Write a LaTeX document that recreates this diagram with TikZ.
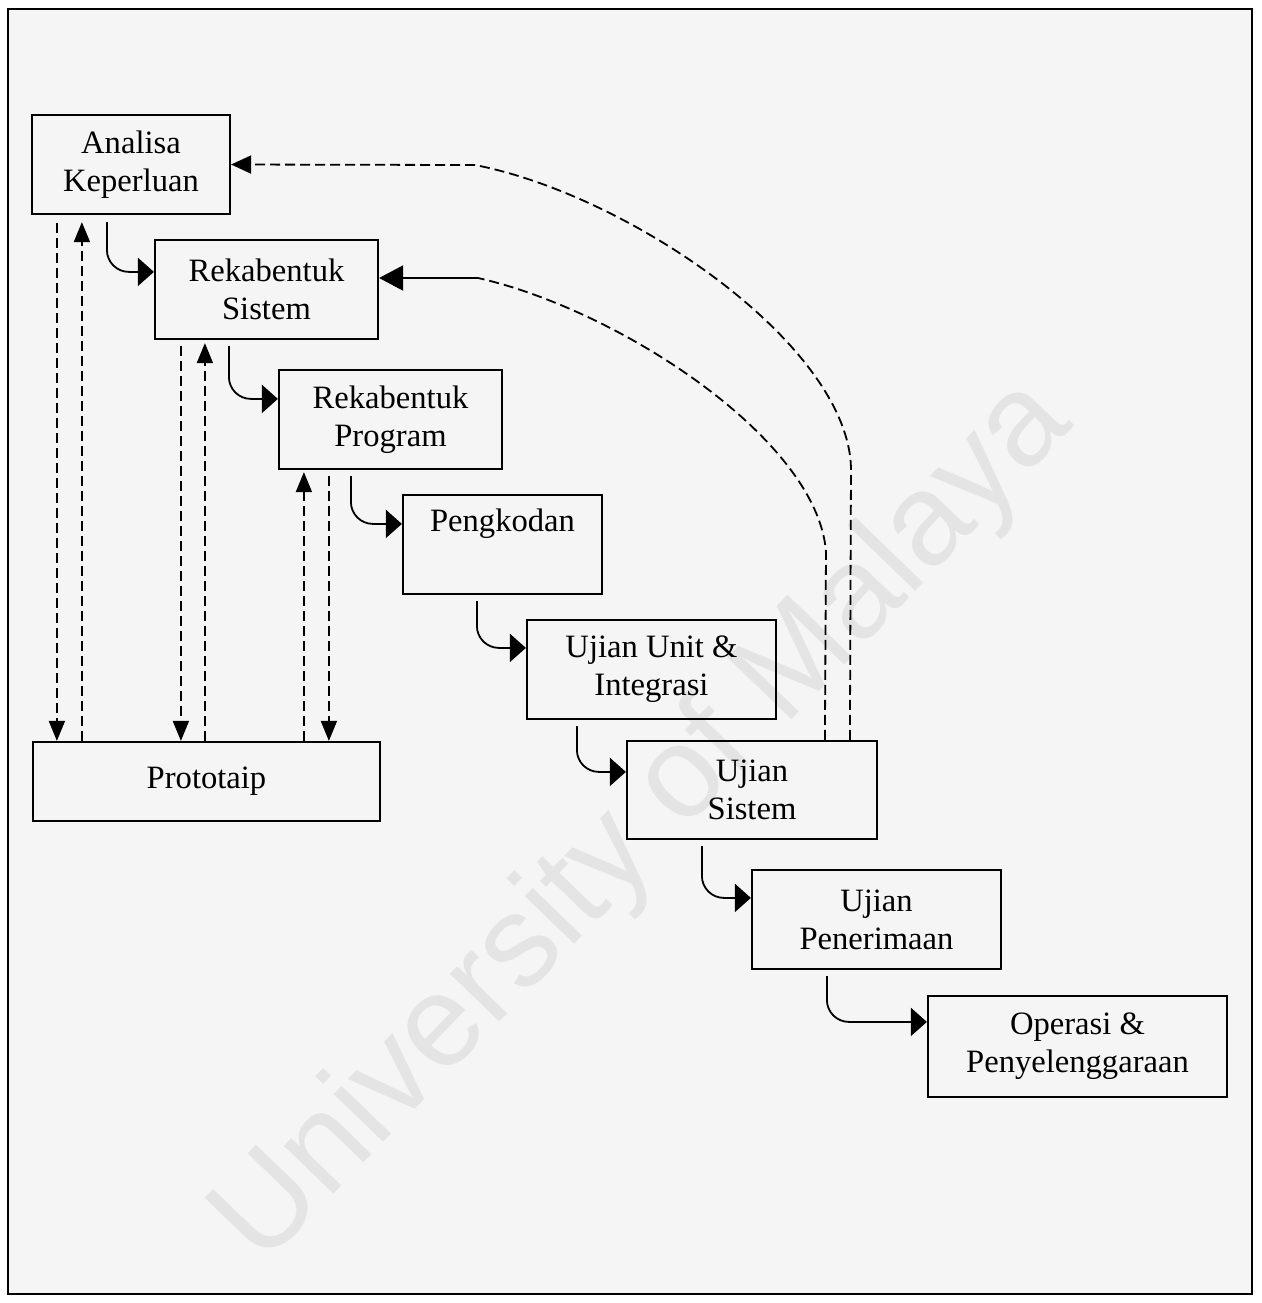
\documentclass[tikz,border=0pt]{standalone}
\usepackage{fontspec}
\setmainfont{Liberation Serif}
\newfontfamily\wmfont{Liberation Sans}
\usetikzlibrary{arrows.meta,calc}
\definecolor{bgcol}{RGB}{245,245,245}
\definecolor{wmcol}{RGB}{228,228,228}
\begin{document}
\begin{tikzpicture}[x=0.5pt,y=-0.5pt,
  box/.style={draw, line width=1.1pt, align=center, inner sep=0pt,
    font=\fontsize{16.3}{19}\selectfont},
  flow/.style={line width=0.9pt, rounded corners=11pt,
    -{Triangle[length=8pt,width=14pt]}},
  dline/.style={line width=0.9pt, dash pattern=on 5pt off 2.5pt},
  dtip/.style={-{Triangle[length=10pt,width=8pt]}},
  ftip/.style={-{Triangle[length=10pt,width=9pt]}},
  ftipb/.style={-{Triangle[length=12pt,width=12.5pt]}}]
\useasboundingbox (0,0) rectangle (1262,1303);
\fill[white] (0,0) rectangle (1262,1303);
\draw[line width=1.4pt, fill=bgcol] (8,9) rectangle (1252,1294);
\node[rotate=46, anchor=base west, inner sep=0pt, text=wmcol,
  font=\wmfont\fontsize{65}{65}\selectfont] (wm) at (262,1268) {University of Malaya};

\node[box,minimum width=99pt,minimum height=49.5pt] (a) at (131,164.5) {Analisa\\Keperluan};
\node[box,minimum width=111.5pt,minimum height=49.5pt] (b) at (266.5,289.5) {Rekabentuk\\Sistem};
\node[box,minimum width=111.5pt,minimum height=49.5pt] (c) at (390.5,419.5) {Rekabentuk\\Program};
\node[box,minimum width=99.5pt,minimum height=49.5pt] (d) at (502.5,544.5) {Pengkodan\\ \strut};
\node[box,minimum width=124.5pt,minimum height=49.5pt] (e) at (651.5,669.5) {Ujian Unit \&\\Integrasi};
\node[box,minimum width=125pt,minimum height=49pt] (f) at (752,790) {Ujian\\Sistem};
\node[box,minimum width=124.5pt,minimum height=49.5pt] (g) at (876.5,919.5) {Ujian\\Penerimaan};
\node[box,minimum width=149.5pt,minimum height=50.5pt] (h) at (1077.5,1046.5) {Operasi \&\\Penyelenggaraan};
\node[box,minimum width=173.5pt,minimum height=39.5pt] (p) at (206.5,781.5) {Prototaip};

% waterfall steps
\draw[flow] ($(a.south west)+(76,7)$) |- ($(b.north west)+(0,33)$);
\draw[flow] ($(b.south west)+(75,6)$) |- ($(c.north west)+(0,30)$);
\draw[flow] ($(c.south west)+(73,6)$) |- ($(d.north west)+(0,30)$);
\draw[flow] ($(d.south west)+(75,6)$) |- ($(e.north west)+(0,29)$);
\draw[flow] ($(e.south west)+(51,6)$) |- ($(f.north west)+(0,32)$);
\draw[flow] ($(f.south west)+(76,6)$) |- ($(g.north west)+(0,29)$);
\draw[flow] ($(g.south west)+(76,6)$) |- ($(h.north west)+(0,27)$);

% prototype links
\coordinate (d1) at ($(a.south west)+(26,8)$);
\coordinate (u1) at ($(a.south west)+(51,7)$);
\coordinate (d2) at ($(b.south west)+(27,6)$);
\coordinate (u2) at ($(b.south west)+(51,3)$);
\coordinate (u3) at ($(c.south west)+(26,2)$);
\coordinate (d3) at ($(c.south west)+(51,6)$);
\draw[dline,dtip] (d1) -- (d1 |- p.north);
\draw[dline,dtip] (u1 |- p.north) -- (u1);
\draw[dline,dtip] (d2) -- (d2 |- p.north);
\draw[dline,dtip] (u2 |- p.north) -- (u2);
\draw[dline,dtip] (u3 |- p.north) -- (u3);
\draw[dline,dtip] (d3) -- (d3 |- p.north);

% feedback from Ujian Sistem
\coordinate (o1) at ($(f.north west)+(224,0)$);
\coordinate (o2) at (851,468);
\coordinate (o3) at (475,165);
\draw[dline,ftip] (o1) -- (o2) .. controls (848,345) and (630,195) .. (o3) -- (a.east);
\coordinate (i1) at ($(f.north west)+(199,0)$);
\coordinate (i2) at (826,552);
\coordinate (i3) at (478,278);
\draw[dline] (i1) -- (i2) .. controls (818,440) and (620,310) .. (i3);
\draw[line width=0.9pt,ftipb] (i3) -- (i3 -| b.east);
\end{tikzpicture}
\end{document}
